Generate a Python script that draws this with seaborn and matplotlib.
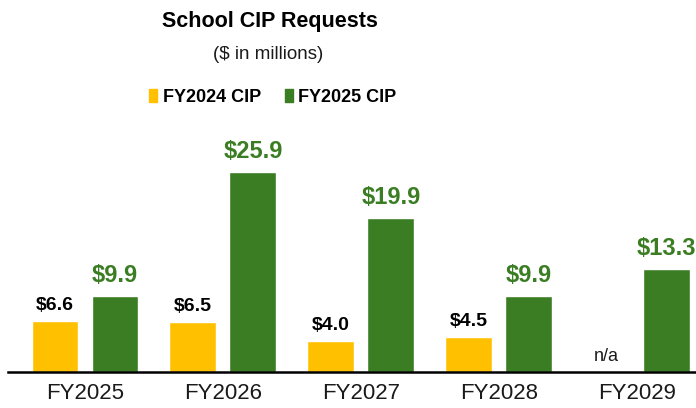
import pandas as pd
import seaborn as sns
import matplotlib.pyplot as plt
from matplotlib import font_manager
from matplotlib.patches import Patch

years = ['FY2025', 'FY2026', 'FY2027', 'FY2028', 'FY2029']
fy2024_cip = [6.6, 6.5, 4.0, 4.5, None]   # FY2029 shown as n/a
fy2025_cip = [9.9, 25.9, 19.9, 9.9, 13.3]
series = ['FY2024 CIP', 'FY2025 CIP']
colors = ['#FFC000', '#3B7D23']

df = pd.DataFrame({'Year': years * 2,
                   'Plan': [series[0]] * len(years) + [series[1]] * len(years),
                   'Value': fy2024_cip + fy2025_cip})
df['Value'] = df['Value'].astype(float)
df['Bar'] = df['Value'].fillna(0)

sns.set_style('white')
plt.rcParams['font.family'] = ['Liberation Sans', 'DejaVu Sans']
plt.rcParams['text.color'] = 'black'
plt.rcParams['xtick.color'] = 'black'

names = {f.name for f in font_manager.fontManager.ttflist}
narrow = 'Liberation Sans Narrow' if 'Liberation Sans Narrow' in names else 'Liberation Sans'

fig = plt.figure(figsize=(6.96, 4.08), dpi=100)
ax = fig.add_axes([0.0115, 0.088, 0.9885, 0.63])
sns.barplot(data=df, x='Year', y='Bar', hue='Plan', hue_order=series, palette=colors,
            width=0.87, gap=0.22, saturation=1, errorbar=None, legend=False, ax=ax)

ax.set_ylim(0, 33.3)
ax.set_xlim(-0.558, 4.43)
ax.set_xlabel('')
ax.set_ylabel('')
ax.set_yticks([])
ax.tick_params(axis='x', length=0, labelsize=16, pad=7.5, labelcolor='#1a1a1a')
for s in ['top', 'right', 'left']:
    ax.spines[s].set_visible(False)
ax.spines['bottom'].set_color('black')
ax.spines['bottom'].set_linewidth(1.8)

# value labels
labels_24 = ['n/a' if pd.isna(v) else f'${v:.1f}' for v in fy2024_cip]
texts = ax.bar_label(ax.containers[0], labels=labels_24, padding=5, fontsize=14,
                     fontweight='bold', family=narrow, color='black')
for t, v in zip(texts, fy2024_cip):
    if pd.isna(v):
        t.set_fontweight('normal')
        t.set_fontsize(13)
        t.set_family('Liberation Sans')
        t.set_color('#1a1a1a')
labels_25 = [f'${v:.1f}' for v in fy2025_cip]
ax.bar_label(ax.containers[1], labels=labels_25, padding=6.5, fontsize=17,
             fontweight='bold', color=colors[1])

fig.text(0.388, 0.948, 'School CIP Requests', ha='center', va='center',
         fontsize=15.5, fontweight='bold', color='black')
fig.text(0.385, 0.867, '($ in millions)', ha='center', va='center', fontsize=13.5,
         color='#1a1a1a')

handles = [Patch(color=c, label=s) for c, s in zip(colors, series)]
fig.legend(handles=handles, loc='center', bbox_to_anchor=(0.392, 0.762), ncol=2,
           frameon=False, prop={'weight': 'bold', 'size': 13}, labelcolor='black',
           handlelength=0.45, handleheight=0.7, handletextpad=0.3, columnspacing=1.3)

fig.savefig('out.png', dpi=100)
